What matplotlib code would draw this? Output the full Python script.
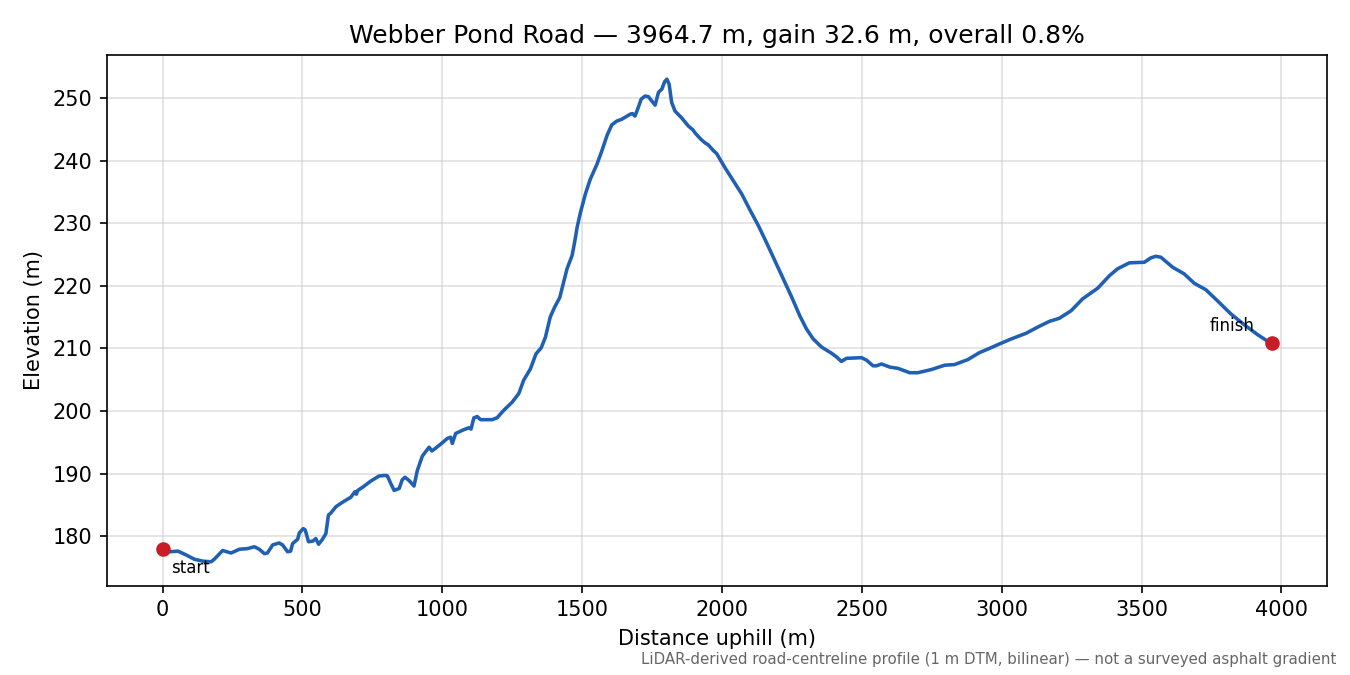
import matplotlib
matplotlib.use("Agg")
import matplotlib.pyplot as plt

distance_m = [
    0, 25, 55, 84, 114, 144, 174, 185, 215, 245, 275, 304, 328, 346, 364, 375,
    394, 417, 429, 447, 458, 465, 483, 489, 503, 510, 522, 537, 548, 558, 572,
    584, 593, 602, 620, 643, 673, 688, 693, 698, 715, 745, 774, 798, 804, 816,
    828, 846, 857, 867, 881, 899, 911, 929, 953, 963, 975, 1000, 1018, 1030,
    1036, 1048, 1077, 1095, 1103, 1113, 1125, 1137, 1178, 1196, 1220, 1250,
    1274, 1291, 1315, 1335, 1354, 1369, 1386, 1402, 1420, 1434, 1446, 1464,
    1473, 1482, 1494, 1512, 1529, 1553, 1571, 1589, 1606, 1624, 1642, 1672,
    1680, 1689, 1701, 1711, 1725, 1737, 1749, 1761, 1773, 1785, 1795, 1803,
    1811, 1820, 1832, 1856, 1880, 1896, 1904, 1916, 1927, 1940, 1951, 1969,
    1981, 2010, 2040,
    2070, 2100, 2130, 2159, 2189, 2219, 2249, 2278, 2302, 2326, 2356, 2392,
    2410, 2427, 2445, 2499, 2517, 2540, 2552, 2570, 2600, 2629, 2671, 2700,
    2748, 2796, 2831, 2879, 2920, 2962, 2992, 3034, 3087, 3129, 3170, 3206,
    3248, 3289, 3343, 3385, 3414, 3456, 3510, 3533, 3551, 3569, 3611, 3652,
    3688, 3730, 3771, 3819, 3866, 3914, 3955, 3964.7,
]
elevation_m = [
    178.0, 177.5, 177.6, 177.0, 176.3, 176.0, 175.9, 176.3, 177.7, 177.3,
    177.9, 178.0, 178.3, 177.9, 177.2, 177.3, 178.6, 178.9, 178.6, 177.5,
    177.6, 178.8, 179.5, 180.5, 181.2, 181.0, 179.1, 179.2, 179.6, 178.7,
    179.5, 180.4, 183.35, 183.7, 184.7, 185.4, 186.2, 187.1, 186.7, 187.3,
    187.8, 188.8, 189.6, 189.7, 189.6, 188.4, 187.3, 187.6, 189.0, 189.4,
    188.9, 188.0, 190.5, 192.8, 194.2, 193.6, 194.0, 194.9, 195.6, 195.8,
    194.8, 196.4, 197.0, 197.3, 197.1, 198.9, 199.1, 198.6, 198.6, 198.9,
    200.1, 201.4, 202.8, 204.9, 206.7, 209.1, 210.1, 211.8, 215.0, 216.6,
    218.1, 220.6, 222.7, 224.8, 226.9, 229.3, 231.7, 234.7, 237.0, 239.4,
    241.6, 244.0, 245.7, 246.3, 246.6, 247.4, 247.5, 247.1, 248.5, 249.8,
    250.3, 250.2, 249.5, 248.85, 250.9, 251.4, 252.6, 253.0, 252.2, 249.3,
    247.9, 246.8, 245.5, 244.9, 244.4, 243.8, 243.3, 242.8, 242.5, 241.6,
    241.1, 238.9, 236.8,
    234.7, 232.1, 229.6, 226.9, 224.0, 221.1, 218.2, 215.2, 213.1, 211.5,
    210.2, 209.2, 208.6, 207.9, 208.4, 208.5, 208.1, 207.2, 207.2, 207.5,
    207.0, 206.8, 206.1, 206.1, 206.6, 207.3, 207.4, 208.2, 209.3, 210.1,
    210.7, 211.5, 212.4, 213.4, 214.3, 214.8, 216.0, 217.9, 219.6, 221.6,
    222.7, 223.65, 223.75, 224.45, 224.7, 224.55, 222.95, 221.9, 220.4,
    219.35, 217.6, 215.5, 213.8, 212.2, 211.0, 210.8,
]

title_text = "Webber Pond Road — 3964.7 m, gain 32.6 m, overall 0.8%"
footnote = "LiDAR-derived road-centreline profile (1 m DTM, bilinear) — not a surveyed asphalt gradient"

fig, ax = plt.subplots(figsize=(9, 4.5), dpi=150)
fig.subplots_adjust(left=0.0793, right=0.983, top=0.9185, bottom=0.132)

ax.plot(distance_m, elevation_m, color="#1f5fb4", lw=1.7, zorder=2)
ax.scatter([distance_m[0], distance_m[-1]], [elevation_m[0], elevation_m[-1]],
           s=36, color="#c81e28", zorder=3)
ax.annotate("start", (distance_m[0], elevation_m[0]), xytext=(4, -5),
            textcoords="offset points", ha="left", va="top", fontsize=8)
ax.annotate("finish", (distance_m[-1], elevation_m[-1]), xytext=(-8, 4),
            textcoords="offset points", ha="right", va="bottom", fontsize=8)

ax.grid(True, color="#cccccc", alpha=0.6, lw=0.8)
ax.set_axisbelow(True)
ax.set_xlabel("Distance uphill (m)")
ax.set_ylabel("Elevation (m)")
ax.set_title(title_text)
fig.text(0.99, 0.012, footnote, ha="right", va="bottom", fontsize=7.2, color="#666666")

fig.savefig("out.png", dpi=150)
